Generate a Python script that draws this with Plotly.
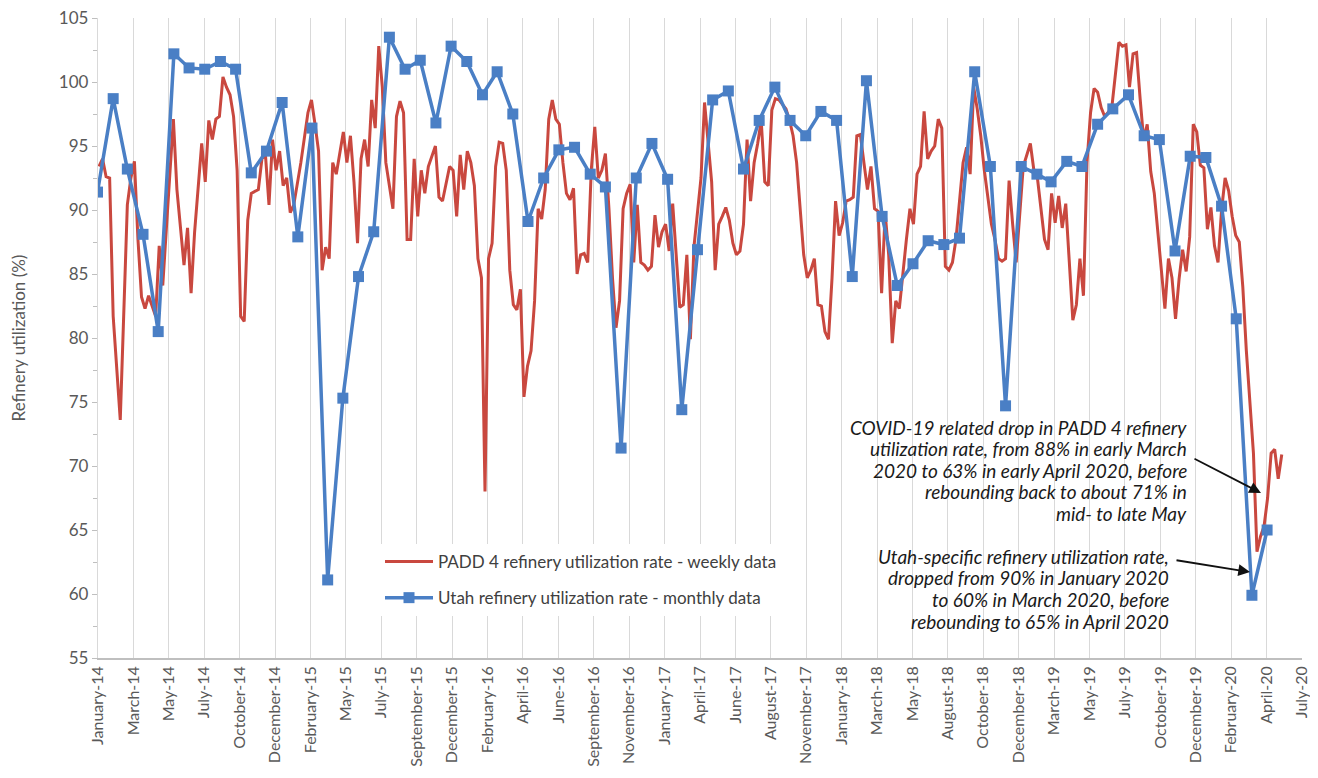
import pandas as pd
import plotly.graph_objects as go

# ---------------- data ----------------
# Utah monthly refinery utilization (%), Dec-2013 .. Apr-2020 (plotted at month end)
utah_first_month = "2013-12"
utah_values = [
    91.4,
    98.7, 93.2, 88.1, 80.5, 102.2, 101.1, 101.0, 101.6, 101.0, 92.9, 94.6, 98.4,      # 2014
    87.9, 96.4, 61.1, 75.3, 84.8, 88.3, 103.5, 101.0, 101.7, 96.8, 102.8, 101.6,      # 2015
    99.0, 100.8, 97.5, 89.1, 92.5, 94.7, 94.9, 92.8, 91.8, 71.4, 92.5, 95.2,          # 2016
    92.4, 74.4, 86.9, 98.6, 99.3, 93.2, 97.0, 99.6, 97.0, 95.8, 97.7, 97.0,           # 2017
    84.8, 100.1, 89.5, 84.1, 85.8, 87.6, 87.3, 87.8, 100.8, 93.4, 74.7, 93.4,         # 2018
    92.8, 92.2, 93.8, 93.4, 96.7, 97.9, 99.0, 95.8, 95.5, 86.8, 94.2, 94.1,           # 2019
    90.3, 81.5, 59.9, 65.0,                                                           # 2020
]

# PADD 4 weekly refinery utilization (%): week number counted from 2014-01-03
padd4_start = "2014-01-03"
padd4_weeks = [
    0, 1, 2, 3, 4, 6, 8, 9, 10, 11, 12, 13, 14, 16, 17, 18, 20, 21, 22, 24, 25, 26, 27, 29,
    30, 31, 32, 33, 34, 35, 36, 37, 38, 39, 40, 41, 42, 43, 45, 46, 47, 48, 49, 50, 51, 52,
    53, 54, 55, 57, 59, 60, 61, 62, 63, 64, 65, 66, 67, 69, 70, 71, 72, 73, 74, 75, 76, 77,
    78, 79, 80, 81, 83, 84, 85, 86, 87, 88, 89, 90, 91, 92, 93, 95, 96, 97, 99, 100, 101,
    102, 103, 104, 105, 106, 107, 108, 109, 110, 111, 112, 113, 114, 115, 116, 117, 118,
    119, 120, 121, 122, 123, 124, 125, 126, 127, 128, 129, 130, 131, 132, 133, 134, 135,
    136, 137, 138, 139, 140, 141, 142, 143, 144, 145, 146, 147, 148, 149, 150, 151, 152,
    153, 154, 155, 156, 157, 158, 159, 160, 161, 162, 164, 165, 166, 167, 168, 170, 171,
    173, 174, 175, 176, 177, 178, 179, 180, 181, 182, 183, 184, 185, 186, 187, 188, 189,
    190, 191, 192, 194, 195, 196, 197, 199, 200, 201, 202, 203, 204, 205, 206, 207, 208,
    209, 210, 211, 212, 213, 214, 215, 216, 217, 218, 219, 220, 221, 222, 223, 224, 225,
    226, 227, 228, 229, 230, 231, 232, 233, 234, 235, 236, 237, 238, 239, 240, 241, 242,
    243, 244, 245, 246, 247, 248, 249, 250, 252, 253, 254, 255, 256, 257, 258, 259, 261,
    263, 264, 265, 267, 268, 269, 270, 271, 272, 273, 274, 275, 276, 277, 278, 279, 280,
    281, 282, 283, 284, 285, 286, 288, 289, 290, 291, 292, 293, 294, 295, 296, 297, 298,
    299, 300, 301, 302, 303, 304, 305, 306, 307, 308, 309, 310, 311, 312, 313, 314, 315,
    316, 317, 318, 319, 320, 321, 322, 323, 324, 325, 326, 327, 328, 329, 330, 331, 332,
    333, 334,
]
padd4_values = [
    93.4, 94.0, 92.6, 92.5, 81.7, 73.6, 90.4, 92.5, 93.8, 87.7, 83.2, 82.3, 83.3, 81.7, 87.2, 84.1, 92.8, 97.1, 91.6, 85.7, 88.6, 83.5, 88.3, 95.2,
    92.2, 97.0, 95.5, 97.1, 97.3, 100.4, 99.6, 99.0, 97.3, 93.1, 81.7, 81.3, 89.2, 91.3, 91.6, 94.0, 94.3, 90.4, 95.5, 93.1, 94.6, 91.9,
    92.5, 89.8, 90.4, 93.7, 97.6, 98.6, 96.7, 94.6, 85.3, 87.1, 86.2, 93.7, 92.8, 96.1, 93.7, 95.8, 92.2, 87.4, 94.0, 95.5, 93.4, 98.6,
    96.4, 102.8, 99.6, 93.7, 90.1, 97.3, 98.5, 97.6, 87.7, 87.7, 94.0, 89.5, 93.1, 91.3, 93.4, 95.0, 91.0, 90.7, 93.4, 93.1, 89.5,
    94.3, 91.6, 94.6, 93.7, 91.9, 86.2, 84.7, 68.0, 86.2, 87.4, 93.4, 95.3, 95.2, 93.1, 85.3, 82.6, 82.2,
    83.8, 75.4, 77.8, 79.0, 82.9, 90.1, 89.3, 91.6, 97.1, 98.6, 97.1, 96.7, 93.7, 91.3, 90.8, 91.7, 85.0,
    86.5, 86.6, 85.9, 93.1, 96.5, 92.5, 93.1, 94.4, 90.1, 84.7, 80.8, 82.9, 90.1, 91.3, 92.0, 85.9, 90.4,
    85.9, 85.7, 85.3, 85.6, 89.6, 87.1, 88.3, 88.9, 86.8, 90.5, 82.4, 82.6, 86.5, 79.9, 87.1, 92.5, 98.4,
    92.2, 85.3, 88.9, 89.5, 90.2, 89.2, 87.4, 86.5, 86.8, 88.9, 95.5, 90.7, 93.7, 95.2, 97.0, 92.2, 91.9,
    97.8, 98.7, 98.6, 97.9, 97.0, 95.8, 93.7, 86.5, 84.7, 85.3, 86.2, 82.6, 82.5, 80.5, 79.9, 84.7, 90.7,
    88.0, 89.0, 90.7, 90.8, 91.0, 95.8, 95.9, 93.7, 91.6, 93.4, 90.1, 89.9, 83.5, 89.8, 86.5, 79.6, 82.9,
    82.3, 85.3, 87.7, 90.1, 88.9, 92.8, 93.4, 97.7, 94.0, 94.6, 95.0, 97.1, 96.4, 85.6, 85.3, 85.9, 87.7,
    90.7, 93.7, 94.9, 92.8, 99.6, 97.9, 95.8, 93.1, 88.9, 87.7, 86.2, 86.0, 86.2, 92.3, 88.9, 85.9, 93.4,
    95.2, 93.1, 92.5, 87.7, 86.9, 91.3, 89.0, 91.1, 88.6, 90.5, 86.2, 81.4, 82.6, 86.2, 83.3, 93.7, 97.6,
    99.5, 99.2, 98.0, 97.3, 97.7, 98.0, 103.1, 102.8, 102.9, 99.6, 102.2, 102.3, 98.7, 95.5, 96.7, 93.0, 91.3,
    88.3, 85.3, 82.3, 86.2, 84.7, 81.5, 84.6, 86.9, 85.2, 87.9, 96.7, 96.1, 93.5, 93.3, 88.5, 90.2, 87.2,
    85.9, 90.0, 92.5, 91.5, 89.5, 88.0, 87.5, 84.0, 79.0, 75.0, 71.0, 63.3, 64.5, 65.3, 67.5, 71.0, 71.3,
    69.0, 70.9,
]

series_names = ["PADD 4 refinery utilization rate - weekly data",
                "Utah refinery utilization rate - monthly data"]
y_title = "Refinery utilization (%)"
note_padd4_lines = ["COVID-19 related drop in PADD 4 refinery",
                    "utilization rate, from 88% in early March",
                    "2020 to 63% in early April 2020, before",
                    "rebounding back to about 71% in",
                    "mid- to late May"]
note_utah_lines = ["Utah-specific refinery utilization rate,",
                   "dropped from 90% in January 2020",
                   "to 60% in March 2020, before",
                   "rebounding to 65% in April 2020"]

# ---------------- derived x values ----------------
utah_dates = (pd.date_range(pd.Period(utah_first_month, "M").to_timestamp() + pd.DateOffset(months=1),
                            periods=len(utah_values), freq="MS") - pd.Timedelta(days=1))
padd4_dates = pd.Timestamp(padd4_start) + pd.to_timedelta([7 * w for w in padd4_weeks], unit="D")

RED = "#C9483F"
BLUE = "#4A7FC5"
FONT = "Lato, 'Noto Sans', sans-serif"

# The page body has an 8px default margin; size the figure so the page is filled exactly.
PAGE_OFF = 8
W, H = 1318 - 2 * PAGE_OFF, 778 - 2 * PAGE_OFF
L, R, T, B = 98 - PAGE_OFF, 16 - PAGE_OFF, 18 - PAGE_OFF, 120 - PAGE_OFF
PW, PH = W - L - R, H - T - B


def px(xp):
    """page x pixel -> paper x"""
    return (xp - PAGE_OFF - L) / PW


def py(yp):
    """page y pixel -> paper y"""
    return (H - B - (yp - PAGE_OFF)) / PH


fig = go.Figure()
fig.add_trace(go.Scatter(
    x=padd4_dates, y=padd4_values, mode="lines", name=series_names[0],
    line=dict(color=RED, width=3), legendgroup="a"))
fig.add_trace(go.Scatter(
    x=utah_dates, y=utah_values, mode="lines+markers", name=series_names[1],
    line=dict(color=BLUE, width=3.5), marker=dict(symbol="square", size=11, color=BLUE),
    legendgroup="b"))

fig.update_layout(
    width=W, height=H,
    margin=dict(l=L, r=R, t=T, b=B),
    plot_bgcolor="white", paper_bgcolor="white",
    font=dict(family=FONT, size=16, color="#595959"),
    showlegend=True,
    legend=dict(x=px(380), y=py(544), xanchor="left", yanchor="top",
                bgcolor="white", borderwidth=0, font=dict(size=17, color="#404040"),
                itemwidth=48, traceorder="grouped", tracegroupgap=11),
    xaxis=dict(
        type="date", range=["2014-01-01", "2020-07-08"], automargin=False,
        tick0="2014-01-01", dtick=70 * 86400000, tickformat="%B-%y",
        tickangle=-90, tickfont=dict(size=16, color="#595959"), ticklabeloverflow="allow",
        showgrid=True, gridcolor="#D9D9D9", gridwidth=1.3,
        showline=True, linecolor="#BFBFBF", linewidth=1.5, ticks="", zeroline=False),
    yaxis=dict(
        range=[55, 105], dtick=5, tick0=55, showgrid=False, zeroline=False, automargin=False,
        showline=True, linecolor="#D9D9D9", linewidth=1.3, ticklabeloverflow="allow",
        ticks="outside", ticklen=5, tickcolor="#BFBFBF",
        minor=dict(dtick=2.5, ticks="outside", ticklen=4, tickcolor="#BFBFBF"),
        tickfont=dict(size=17, color="#595959"),
        title=dict(text=y_title, font=dict(size=17, color="#595959"), standoff=28)),
)

for i, line in enumerate(note_padd4_lines):
    fig.add_annotation(xref="paper", yref="paper", x=px(1188), y=py(427 + 21.5 * i),
                       xanchor="right", yanchor="middle", text="<i>" + line + "</i>",
                       showarrow=False, borderpad=0,
                       font=dict(family=FONT, size=19, color="#1A1A1A"))
for i, line in enumerate(note_utah_lines):
    fig.add_annotation(xref="paper", yref="paper", x=px(1170), y=py(556 + 21.7 * i),
                       xanchor="right", yanchor="middle", text="<i>" + line + "</i>",
                       showarrow=False, borderpad=0,
                       font=dict(family=FONT, size=19, color="#1A1A1A"))
# arrows
fig.add_annotation(xref="paper", yref="paper", x=px(1261), y=py(493),
                   text="", showarrow=True, ax=-68, ay=-35, arrowhead=2, arrowsize=1.3,
                   arrowwidth=1.8, arrowcolor="#111111")
fig.add_annotation(xref="paper", yref="paper", x=px(1250), y=py(572),
                   text="", showarrow=True, ax=-75, ay=-12, arrowhead=2, arrowsize=1.3,
                   arrowwidth=1.8, arrowcolor="#111111")

fig.write_html("out.html")
